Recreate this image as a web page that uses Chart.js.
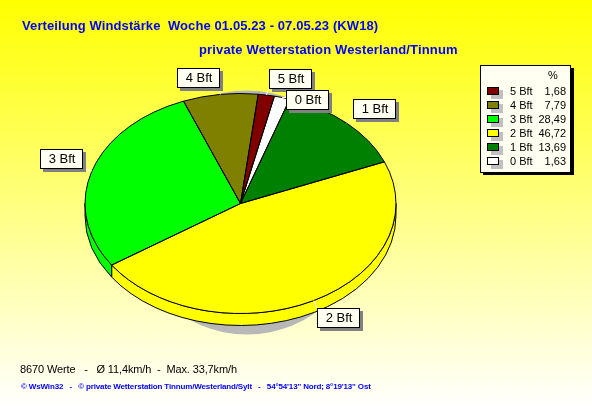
<!DOCTYPE html>
<html><head><meta charset="utf-8">
<style>
html,body{margin:0;padding:0;width:592px;height:407px;overflow:hidden;background:linear-gradient(180deg,#ffff00 0%,#ffffff 100%);}
canvas{display:block}
</style>
<script src="https://cdn.jsdelivr.net/npm/chart.js@4/dist/chart.umd.min.js"></script>
</head><body><canvas id="c" width="592" height="407"></canvas>
<script>
const categories = ['0 Bft','1 Bft','2 Bft','3 Bft','4 Bft','5 Bft'];
const percentValues = [1.63,13.69,46.72,28.49,7.79,1.68];
const percentLabels = ['1,63','13,69','46,72','28,49','7,79','1,68'];
const sliceColors = ['#ffffff','#008000','#ffff00','#00ff00','#808000','#800000'];
const titleLine1 = 'Verteilung Windstärke  Woche 01.05.23 - 07.05.23 (KW18)';
const titleLine2 = 'private Wetterstation Westerland/Tinnum';
const statsLine = '8670 Werte   -   Ø 11,4km/h  -  Max. 33,7km/h';
const footerLine = '© WsWin32   -   © private Wetterstation Tinnum/Westerland/Sylt   -   54°54\'13" Nord; 8°19\'13" Ost';
const labelBoxes = [[286,90],[353,99],[317,308],[40,149],[177,68],[269,69]];

const SQUASH = 110/155.5, DEPTH = 12;
const BOX_W = 42, BOX_H = 19;
const paper = '#fffff2';

function sharp(ctx, font, color, align){ctx.font=font;ctx.fillStyle=color;ctx.textAlign=align||'left';ctx.textBaseline='alphabetic';}

const pie3d = {
  id:'pie3d',
  beforeDatasetsDraw(chart){
    const ctx = chart.ctx, arcs = chart.getDatasetMeta(0).data, p = arcs[0];
    const r = p.outerRadius, ry = r*SQUASH;
    ctx.save();
    ctx.fillStyle='#b8b8b8';
    ctx.beginPath();ctx.ellipse(p.x+6.5,p.y+9,120,122,0,0,Math.PI*2);ctx.fill();
    ctx.lineWidth=1;ctx.strokeStyle='#000';
    arcs.forEach((a,i)=>{
      for(const k of [-2,0,2]){
        const s=Math.max(a.startAngle+k*Math.PI,0), e=Math.min(a.endAngle+k*Math.PI,Math.PI);
        if(s<e){
          ctx.beginPath();
          ctx.ellipse(p.x,p.y,r,ry,0,s,e);
          ctx.ellipse(p.x,p.y+DEPTH,r,ry,0,e,s,true);
          ctx.closePath();
          ctx.fillStyle=sliceColors[i];ctx.fill();ctx.stroke();
        }
      }
    });
    ctx.restore();
    ctx.save();
    ctx.translate(p.x,p.y);ctx.scale(1,SQUASH);ctx.translate(-p.x,-p.y);
  },
  afterDatasetsDraw(chart){
    const ctx = chart.ctx, arcs = chart.getDatasetMeta(0).data, p = arcs[0];
    ctx.restore();
    const r = p.outerRadius, ry = r*SQUASH;
    ctx.save();
    ctx.lineWidth=1;ctx.strokeStyle='#000';
    arcs.forEach(a=>{
      ctx.beginPath();
      ctx.moveTo(p.x,p.y);
      ctx.ellipse(p.x,p.y,r,ry,0,a.startAngle,a.endAngle);
      ctx.closePath();ctx.stroke();
    });
    arcs.forEach((a,i)=>{
      const m=(a.startAngle+a.endAngle)/2;
      const ax=p.x+Math.cos(m)*r, ay=p.y+Math.sin(m)*ry;
      const [bx,by]=labelBoxes[i];
      const tx=Math.max(bx,Math.min(bx+BOX_W,ax)), ty=Math.max(by,Math.min(by+BOX_H,ay));
      ctx.strokeStyle='#ffffff';ctx.beginPath();ctx.moveTo(ax,ay);ctx.lineTo(tx,ty);ctx.stroke();
    });
    for(let i=arcs.length-1;i>=0;i--){
      const [bx,by]=labelBoxes[i];
      ctx.fillStyle='#808080';ctx.fillRect(bx+3,by+3,BOX_W+1,BOX_H+1);
      ctx.fillStyle=paper;ctx.fillRect(bx,by,BOX_W,BOX_H);
      ctx.strokeStyle='#000';ctx.strokeRect(bx+.5,by+.5,BOX_W,BOX_H);
      sharp(ctx,'13px "Liberation Sans"','#000','center');
      ctx.fillText(categories[i],bx+BOX_W/2+1,by+14);
    }
    ctx.fillStyle='#000';ctx.fillRect(483,68,91,107);
    ctx.fillStyle=paper;ctx.fillRect(480,65,91,107);
    ctx.strokeStyle='#000';ctx.strokeRect(480.5,65.5,90,107);
    sharp(ctx,'11px "Liberation Sans"','#000','center');
    ctx.fillText('%',553,79);
    for(let i=categories.length-1,row=0;i>=0;i--,row++){
      const y=91+row*14;
      ctx.fillStyle='#c0c0c0';ctx.fillRect(491,y-1,12,9);
      ctx.fillStyle=sliceColors[i];ctx.fillRect(487,y-4,11,7);
      ctx.strokeStyle='#000';ctx.strokeRect(487.5,y-3.5,11,7);
      sharp(ctx,'11px "Liberation Sans"','#000','left');
      ctx.fillText(categories[i],510,y+4);
      sharp(ctx,'11px "Liberation Sans"','#000','right');
      ctx.fillText(percentLabels[i],566,y+4);
    }
    ctx.letterSpacing='0.1px';
    sharp(ctx,'bold 13px "Liberation Sans"','#0000ff');
    ctx.fillText(titleLine1,22,30);
    ctx.letterSpacing='0.15px';
    ctx.fillText(titleLine2,199,54);
    ctx.letterSpacing='-0.13px';
    sharp(ctx,'11px "Liberation Sans"','#000');
    ctx.fillText(statsLine,20,373);
    ctx.letterSpacing='-0.15px';
    sharp(ctx,'bold 8px "Liberation Sans"','#0000ff');
    ctx.fillText(footerLine,21,389);
    ctx.letterSpacing='0px';
    ctx.restore();
  }
};

new Chart(document.getElementById('c'),{
  type:'pie',
  data:{labels:categories,datasets:[{data:percentValues,backgroundColor:sliceColors,borderWidth:0}]},
  options:{
    responsive:false,animation:false,rotation:12.6,
    layout:{padding:{left:85,right:196,top:48,bottom:48}},
    plugins:{legend:{display:false},tooltip:{enabled:false},title:{display:false}}
  },
  plugins:[pie3d]
});
</script></body></html>
